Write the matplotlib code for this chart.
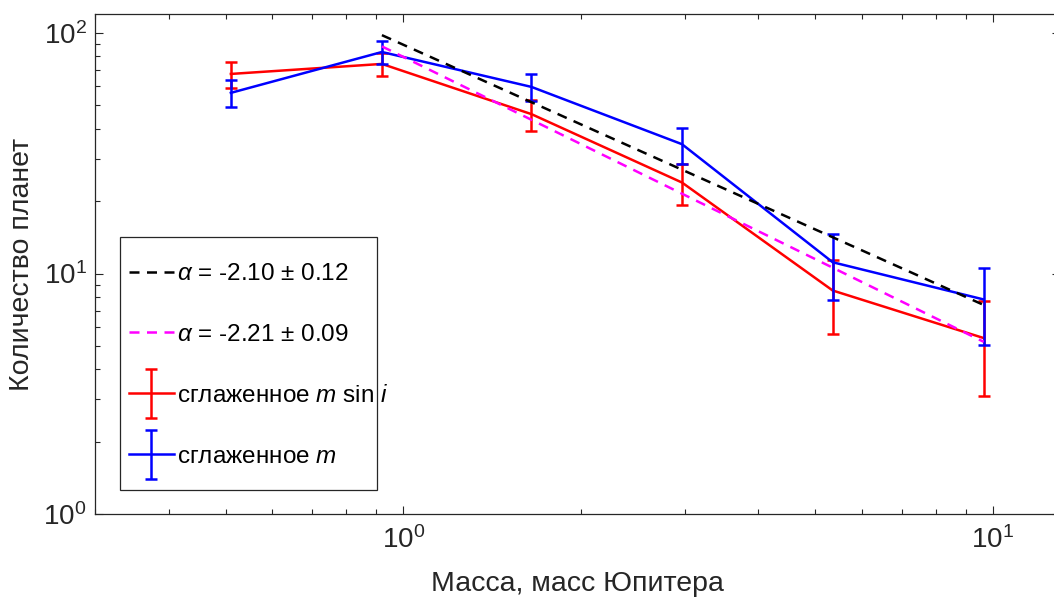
import matplotlib
matplotlib.use("Agg")
import matplotlib.pyplot as plt
from matplotlib.container import ErrorbarContainer
from matplotlib.legend_handler import HandlerErrorbar
from matplotlib.patches import Rectangle

plt.rcParams['font.family'] = ['Liberation Sans', 'DejaVu Sans']
plt.rcParams['mathtext.fontset'] = 'custom'
plt.rcParams['mathtext.rm'] = 'Liberation Sans'
plt.rcParams['mathtext.it'] = 'Liberation Sans:italic'
plt.rcParams['mathtext.default'] = 'regular'

# Data
mass = [0.51, 0.92, 1.65, 2.97, 5.35, 9.65]
count_msini = [67.6, 74.4, 46.0, 23.9, 8.5, 5.39]
err_msini = [8.3, 8.1, 6.8, 4.6, 2.9, 2.3]
count_m = [56.4, 83.4, 59.7, 34.5, 11.14, 7.80]
err_m = [7.2, 9.1, 7.6, 5.9, 3.4, 2.77]

fit_x = [0.92, 9.65]
fit_black_y = [98.0, 7.4]
fit_magenta_y = [88.0, 5.2]

label_black = r'$\mathit{\alpha}$ = -2.10 ± 0.12'
label_magenta = r'$\mathit{\alpha}$ = -2.21 ± 0.09'
label_red = r'сглаженное $\mathit{m}$ sin $\mathit{i}$'
label_blue = r'сглаженное $\mathit{m}$'

W, H = 1054, 603
fig = plt.figure(figsize=(W / 100, H / 100), dpi=100)
left, right, top, bottom = 95, 1060, 14, 514
ax = fig.add_axes([left / W, (H - bottom) / H, (right - left) / W, (bottom - top) / H])

axcol = '#262626'

eb_red = ax.errorbar(mass, count_msini, yerr=err_msini, color='#ff0000', lw=1.8,
                     elinewidth=1.8, capsize=4.3, capthick=1.8, zorder=2, label=label_red)
eb_blue = ax.errorbar(mass, count_m, yerr=err_m, color='#0000ff', lw=1.8,
                      elinewidth=1.8, capsize=4.3, capthick=1.8, zorder=3, label=label_blue)
l_black, = ax.plot(fit_x, fit_black_y, '--', color='black', lw=1.8, dashes=(4, 3),
                   zorder=4, label=label_black)
l_mag, = ax.plot(fit_x, fit_magenta_y, '--', color='#ff00ff', lw=1.8, dashes=(4, 3),
                 zorder=4, label=label_magenta)

ax.set_xscale('log')
ax.set_yscale('log')
ax.set_xlim(0.3, 13.0)
ax.set_ylim(1, 120)

ax.tick_params(which='both', direction='in', top=True, right=True, colors=axcol,
               labelsize=20)
ax.tick_params(which='major', length=6, width=0.8)
ax.tick_params(which='minor', length=3.5, width=0.8)
ax.tick_params(axis='x', pad=9)
ax.tick_params(axis='y', pad=6)
for s in ax.spines.values():
    s.set_color(axcol)
    s.set_linewidth(0.9)

ax.set_xlabel('Масса, масс Юпитера', fontsize=20.5, color=axcol, labelpad=12)
ax.set_ylabel('Количество планет', fontsize=20.5, color=axcol, labelpad=6)

# legend frame (drawn separately, in pixel-based axes fractions)
ax_w, ax_h = right - left, bottom - top
fx0, fx1, fy0, fy1 = 120, 377, 237, 490
frame = Rectangle(((fx0 - left) / ax_w, (bottom - fy1) / ax_h),
                  (fx1 - fx0) / ax_w, (fy1 - fy0) / ax_h,
                  transform=ax.transAxes, facecolor='white', edgecolor=axcol,
                  lw=0.9, zorder=5)
ax.add_patch(frame)

leg = ax.legend([l_black, l_mag, eb_red, eb_blue],
                [label_black, label_magenta, label_red, label_blue],
                loc='upper left',
                bbox_to_anchor=((129 - left) / ax_w, (bottom - 263) / ax_h),
                borderaxespad=0, borderpad=0,
                fontsize=17.5, handlelength=1.85, handletextpad=0.12, labelspacing=1.6,
                frameon=False,
                handler_map={ErrorbarContainer: HandlerErrorbar(xerr_size=0.5, yerr_size=1.0)})
leg.set_zorder(6)

fig.savefig('out.png', dpi=100)
